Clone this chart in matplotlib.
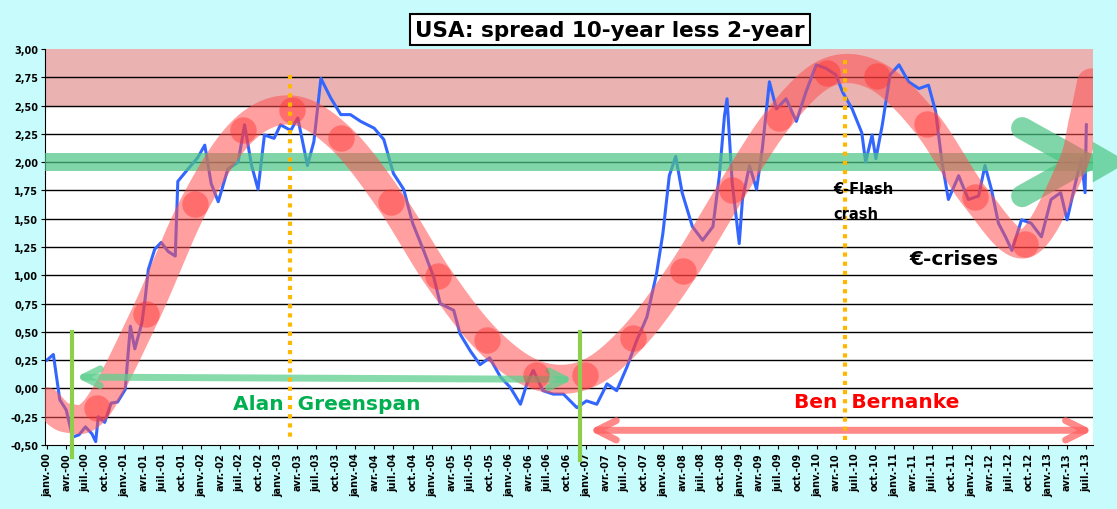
import numpy as np
import matplotlib
matplotlib.use("Agg")
import matplotlib.pyplot as plt
from matplotlib.patches import Polygon

# months since Jan 2000 and spread (10y-2y)
months = [0,1,2,3,4,5,6,7,7.6,8,9,10,11,12.2,13,13.7,14.8,15.3,15.8,16.8,17.8,18.9,20,20.4,22,23.5,24.6,25.6,26.7,28.2,
          29.8,30.8,31.9,32.9,33.9,35.4,36.4,38,39.1,40.6,41.6,42.7,44.2,45.8,47.3,48.9,51,52.5,54,55.6,57,58.7,60.3,
          61.3,63.4,64.4,66,67.5,69,70.7,72.2,73.8,74.8,75.8,77.3,78.9,80.5,82.6,84.1,85.7,87.3,88.8,90.4,91.9,93.5,
          95,96,97,98,99,100.6,102.2,103.8,104.8,105.6,106,106.8,107.9,108.4,109.5,110.6,111.5,112.6,113.7,115.2,
          116.8,118.3,119.9,121.4,123,124,125.5,127,127.6,128.6,129.2,130.2,131.4,132.8,134.3,135.9,137.4,138.5,
          139.5,140.5,142.1,143.6,145.2,146.2,147.2,148.3,149.4,150.4,151.9,153.4,155,156.5,158,159,160.2,161.2,161.8,162]
spread = [0.25,0.30,-0.10,-0.19,-0.43,-0.41,-0.34,-0.40,-0.47,-0.25,-0.30,-0.13,-0.12,-0.01,0.55,0.35,0.58,0.79,1.05,1.23,1.29,1.21,1.17,1.83,1.94,2.04,
          2.15,1.81,1.65,1.94,2.00,2.33,1.97,1.76,2.24,2.21,2.33,2.28,2.39,1.97,2.18,2.74,2.57,2.42,2.42,2.36,2.30,2.20,1.90,1.76,
          1.46,1.22,0.98,0.75,0.69,0.48,0.33,0.21,0.27,0.10,0.01,-0.14,0.04,0.16,-0.02,-0.05,-0.05,-0.17,-0.11,-0.14,0.04,-0.02,
          0.19,0.42,0.63,1.01,1.37,1.88,2.05,1.73,1.43,1.31,1.43,1.88,2.41,2.56,1.82,1.28,1.67,1.97,1.76,2.12,2.71,2.47,2.56,
          2.36,2.62,2.86,2.83,2.77,2.62,2.47,2.26,2.00,2.24,2.03,2.33,2.77,2.86,2.71,2.65,2.68,2.45,2.00,1.67,1.88,1.67,1.70,
          1.97,1.76,1.46,1.34,1.22,1.49,1.46,1.34,1.67,1.73,1.49,1.79,2.03,1.73,2.33]

# trend band (sketched wave) and its dots
band_m = [0,3,7.8,15.4,23,30.6,38.2,45.8,53.6,60.9,68.6,76.2,83.9,91.3,99.1,106.7,114.1,121.6,129.3,137.1,144.7,152.5,159.5,161.5,162.8]
band_v = [-0.12,-0.26,-0.17,0.66,1.63,2.28,2.46,2.21,1.65,0.99,0.43,0.12,0.12,0.45,1.04,1.75,2.39,2.79,2.76,2.34,1.69,1.28,1.93,2.35,2.70]
dot_m = band_m[2:-3]
dot_v = band_v[2:-3]

tick_pos = list(range(0, 163, 3))
mnames = ['janv.', 'avr.', 'juil.', 'oct.']
tick_lab = [f"{mnames[(p % 12)//3]}-{p//12:02d}" for p in tick_pos]

def catmull(xs, ys, n=20):
    xs = np.asarray(xs, float); ys = np.asarray(ys, float)
    P = np.column_stack([xs, ys])
    P = np.vstack([P[0], P, P[-1]])
    out = []
    for i in range(1, len(P) - 2):
        p0, p1, p2, p3 = P[i-1], P[i], P[i+1], P[i+2]
        t = np.linspace(0, 1, n, endpoint=False)[:, None]
        out.append(0.5*((2*p1) + (-p0+p2)*t + (2*p0-5*p1+4*p2-p3)*t**2 + (-p0+3*p1-3*p2+p3)*t**3))
    out.append(P[-2][None])
    return np.vstack(out)

fig = plt.figure(figsize=(11.17, 5.10), dpi=100)
fig.patch.set_facecolor('#C8FCFC')
ax = fig.add_axes([0.0403, 0.1255, 0.938, 0.7765])
ax.set_facecolor('white')
ax.set_xlim(-0.3, 163)
ax.set_ylim(-0.5, 3.0)
ax.set_yticks(np.arange(-0.5, 3.01, 0.25))
ax.set_yticklabels([f"{v:.2f}".replace('.', ',') for v in np.arange(-0.5, 3.01, 0.25)],
                   fontsize=7, fontweight='bold')
ax.set_xticks(tick_pos)
ax.set_xticklabels(tick_lab, rotation=90, fontsize=7, fontweight='bold')
ax.tick_params(length=3, pad=2)
for v in np.arange(-0.25, 3.0, 0.25):
    ax.axhline(v, color='black', lw=1, zorder=1)
for s in ['top', 'right']:
    ax.spines[s].set_visible(False)

ax.axhspan(2.5, 3.0, color='#EBB2B2', zorder=0.5)
ax.plot(months, spread, color='#3366FF', lw=2.2, zorder=2)
ax.axhspan(1.92, 2.08, color='#4CC585', alpha=0.7, zorder=3, lw=0)
ax.add_patch(Polygon([[163, 1.82], [163, 2.18], [168.5, 2.0]], closed=True, color='#4CC585',
                     alpha=0.7, clip_on=False, zorder=3, lw=0))
ax.plot([152, 161.5, 152], [2.30, 2.0, 1.70], color='#4CC585', lw=16, alpha=0.7,
        solid_capstyle='round', solid_joinstyle='miter', zorder=3)

bc = catmull(band_m, band_v)
ax.plot(bc[:, 0], bc[:, 1], color='#FF5050', lw=21, alpha=0.55, solid_capstyle='round', zorder=4)
ax.plot(dot_m, dot_v, 'o', color='#FF3030', ms=19, alpha=0.45, mec='none', zorder=5)

ax.annotate('', xy=(4.5, 0.10), xytext=(82, 0.08),
            arrowprops=dict(arrowstyle='<->,head_length=1.2,head_width=0.6', color='#5FCF8F',
                            lw=5, alpha=0.75, shrinkA=0, shrinkB=0), zorder=4)
ax.annotate('', xy=(84.5, -0.37), xytext=(163, -0.37),
            arrowprops=dict(arrowstyle='<->,head_length=1.4,head_width=0.7', color='#FF6060',
                            lw=5, alpha=0.75, shrinkA=0, shrinkB=0), zorder=4)

ax.plot([3.9, 3.9], [0.5, -0.61], color='#8DCF4A', lw=3, clip_on=False, zorder=6)
ax.plot([83.1, 83.1], [0.5, -0.63], color='#8DCF4A', lw=3, clip_on=False, zorder=6)
ax.plot([37.9, 37.9], [2.77, -0.45], color='#FFB800', lw=3, ls=(0, (1, 1.2)), zorder=6)
ax.plot([124.4, 124.4], [2.9, -0.5], color='#FFB800', lw=3, ls=(0, (1, 1.2)), zorder=6)

ax.text(29, -0.18, 'Alan  Greenspan', color='#00B050', fontsize=14.5, fontweight='bold', zorder=7)
ax.text(116.5, -0.16, 'Ben  Bernanke', color='#FF0000', fontsize=14.5, fontweight='bold', zorder=7)
ax.text(122.5, 1.77, '€-Flash', fontsize=10.5, fontweight='bold', va='center', zorder=7)
ax.text(122.5, 1.55, 'crash', fontsize=10.5, fontweight='bold', va='center', zorder=7)
ax.text(134.5, 1.10, '€-crises', fontsize=14.5, fontweight='bold', zorder=7)

fig.text(0.546, 0.94, 'USA: spread 10-year less 2-year', ha='center', va='center',
         fontsize=15.5, fontweight='bold',
         bbox=dict(boxstyle='square,pad=0.25', fc='white', ec='black', lw=1.5))

fig.savefig('out.png', dpi=100, facecolor=fig.get_facecolor())
